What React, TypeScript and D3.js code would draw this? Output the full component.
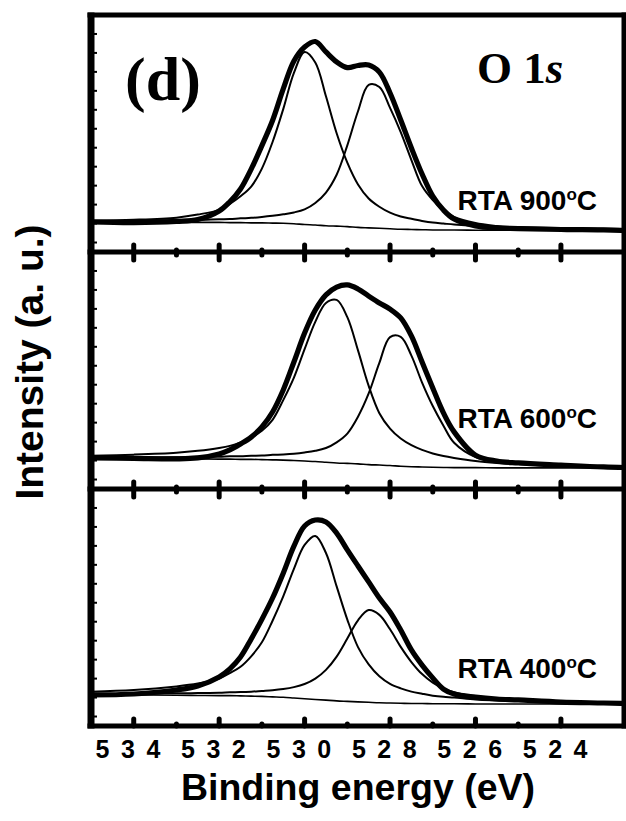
import React from 'react'
import * as d3 from 'd3'

// binding energy grid (eV) the spectra were read at
const energy = [535, 534, 533, 532.5, 532, 531.75, 531.5, 531.25, 531, 530.75, 530.5, 530.25, 530, 529.75, 529.5, 529.25, 529, 528.75, 528.5, 528.25, 528, 527.75, 527.5, 527.25, 527, 526.75, 526.5, 526, 525.5, 525, 524, 523, 522]

// RTA 900 oC
const measured900 = [12.7, 12.4, 12.9, 13.7, 17.3, 21.2, 26.6, 35.0, 44.9, 55.5, 68.8, 80.6, 86.5, 88.8, 84.4, 80.2, 77.8, 78.7, 78.9, 75.9, 67.1, 55.7, 43.9, 32.9, 23.6, 17.7, 13.9, 11.0, 10.1, 9.9, 9.5, 9.3, 8.9]
const peakA900 = [13.2, 13.6, 14.5, 15.8, 17.8, 20.3, 23.5, 27.6, 35.2, 46.4, 60.3, 75.6, 84.4, 80.0, 65.7, 50.1, 37.7, 28.5, 22.6, 19.1, 16.6, 15.0, 14.0, 13.1, 12.4, 12.0, 11.6, 11.0, 10.6, 10.4, 10.0, 9.8, 9.6]
const peakB900 = [13.0, 13.2, 13.4, 13.5, 13.8, 13.9, 14.2, 14.4, 14.8, 15.3, 15.9, 16.7, 18.0, 20.7, 25.1, 32.6, 45.0, 59.4, 70.5, 69.6, 60.8, 50.6, 38.8, 27.8, 21.9, 17.7, 14.8, 12.2, 11.0, 10.3, 9.7, 9.5, 9.3]
const background900 = [12.6, 12.6, 12.5, 12.5, 12.5, 12.4, 12.4, 12.3, 12.3, 12.2, 12.1, 11.9, 11.6, 11.4, 11.1, 10.9, 10.7, 10.4, 10.2, 10.0, 9.8, 9.6, 9.5, 9.4, 9.3, 9.3, 9.3, 9.2, 9.2, 9.2, 9.2, 9.2, 9.2]

// RTA 600 oC
const measured600 = [13.1, 12.9, 12.7, 13.1, 14.8, 16.5, 19.0, 21.9, 26.2, 32.5, 41.8, 53.6, 65.8, 75.5, 81.9, 85.2, 86.1, 84.4, 81.4, 78.5, 75.9, 72.2, 64.6, 53.6, 42.6, 32.1, 24.1, 14.3, 11.8, 11.0, 10.1, 9.3, 8.9]
const peakA600 = [14.0, 14.5, 15.3, 16.1, 17.3, 18.2, 19.7, 21.8, 24.6, 29.2, 37.5, 47.0, 59.0, 70.5, 78.5, 79.8, 72.5, 58.5, 43.5, 32.0, 25.5, 21.3, 18.5, 16.5, 15.0, 13.9, 13.1, 11.8, 11.0, 10.5, 9.9, 9.5, 9.3]
const peakB600 = [13.2, 13.3, 13.4, 13.6, 13.6, 13.8, 13.8, 14.0, 14.1, 14.4, 14.6, 14.9, 15.4, 16.1, 17.3, 19.7, 23.4, 30.5, 40.3, 53.2, 64.1, 64.2, 56.3, 44.9, 35.0, 26.7, 19.5, 13.5, 11.5, 10.6, 9.8, 9.4, 9.2]
const background600 = [12.8, 12.8, 12.7, 12.7, 12.6, 12.6, 12.5, 12.5, 12.4, 12.3, 12.2, 12.0, 11.8, 11.6, 11.3, 11.0, 10.8, 10.6, 10.3, 10.1, 9.9, 9.6, 9.4, 9.3, 9.2, 9.1, 9.0, 9.0, 8.9, 8.9, 8.9, 8.9, 8.9]

// RTA 400 oC
const measured400 = [13.1, 13.5, 15.2, 16.9, 20.7, 24.1, 29.1, 36.7, 45.0, 54.0, 64.5, 75.9, 84.4, 86.9, 86.1, 81.4, 74.3, 67.5, 60.8, 54.0, 48.1, 40.5, 32.1, 25.7, 20.3, 15.6, 13.5, 12.2, 11.4, 11.0, 10.1, 9.7, 9.3]
const peakA400 = [14.5, 15.2, 16.7, 17.9, 20.0, 22.3, 25.0, 29.4, 35.3, 44.4, 54.7, 66.3, 76.4, 80.2, 73.0, 58.9, 44.9, 33.3, 26.0, 21.0, 17.8, 15.9, 14.5, 13.6, 12.8, 12.3, 12.0, 11.2, 10.8, 10.5, 10.1, 9.9, 9.8]
const peakB400 = [13.5, 13.6, 13.8, 13.9, 14.0, 14.2, 14.3, 14.5, 14.8, 15.1, 15.6, 16.4, 17.7, 20.0, 23.7, 29.3, 36.9, 44.6, 48.9, 46.9, 40.8, 33.4, 27.0, 21.9, 18.3, 15.9, 14.3, 12.4, 11.5, 10.9, 10.3, 10.0, 9.8]
const background400 = [13.1, 13.1, 13.0, 12.9, 12.8, 12.8, 12.7, 12.6, 12.5, 12.3, 12.1, 11.8, 11.5, 11.2, 10.9, 10.6, 10.4, 10.2, 10.0, 9.8, 9.7, 9.6, 9.5, 9.5, 9.4, 9.4, 9.4, 9.3, 9.3, 9.3, 9.3, 9.3, 9.3]

const temperatures = ['900', '600', '400']
const majorTicks = [534, 532, 530, 528, 526, 524]
const minorTicks = [533, 531, 529, 527, 525]

const W = 626
const H = 821
const left = 91
const right = 625
const top = 15
const panelH = 237
const sans = 'Liberation Sans, Arial, sans-serif'
const serif = 'Liberation Serif, Times New Roman, serif'

export default function App() {
  const x = d3.scaleLinear().domain([535, 522.5]).range([left, right])

  const panels = [
    { temp: temperatures[0], measured: measured900, peaks: [peakA900, peakB900], bg: background900, labelY: 210 },
    { temp: temperatures[1], measured: measured600, peaks: [peakA600, peakB600], bg: background600, labelY: 428 },
    { temp: temperatures[2], measured: measured400, peaks: [peakA400, peakB400], bg: background400, labelY: 678 },
  ]
  const bottom = top + panelH * 3

  return (
    <svg width={W} height={H} style={{ position: 'absolute', left: 0, top: 0, background: '#fff' }}>
      <defs>
        <clipPath id="plotArea">
          <rect x={left} y={top} width={right - left} height={panelH * 3} />
        </clipPath>
      </defs>

      {panels.map((p, i) => {
        const y0 = top + panelH * i
        const y = d3.scaleLinear().domain([0, 100]).range([y0 + panelH, y0])
        const line = d3
          .line<number>()
          .x((_, k) => x(energy[k]))
          .y((v) => y(v))
          .curve(d3.curveCatmullRom.alpha(0.5))
        return (
          <g key={p.temp}>
            <g clipPath="url(#plotArea)" fill="none" stroke="#000" strokeLinejoin="round">
              <path d={line(p.bg) || ''} strokeWidth={1.6} />
              {p.peaks.map((pk, j) => (
                <path key={j} d={line(pk) || ''} strokeWidth={2} />
              ))}
              <path d={line(p.measured) || ''} strokeWidth={5.2} />
            </g>
            {/* small y ticks */}
            {d3.range(4, 100, 8).map((v) => (
              <line key={v} x1={left + 3} x2={left + 6} y1={y(v)} y2={y(v)} stroke="#000" strokeWidth={2} />
            ))}
            {/* x ticks, inward at the bottom of every panel and the top of the lower two */}
            {majorTicks.map((t) => (
              <g key={t} stroke="#000" strokeWidth={5} strokeLinecap="round">
                <line x1={x(t)} x2={x(t)} y1={y0 + panelH} y2={y0 + panelH - 7} />
                {i > 0 && <line x1={x(t)} x2={x(t)} y1={y0} y2={y0 + 8} />}
              </g>
            ))}
            {minorTicks.map((t) => (
              <g key={t} stroke="#000" strokeWidth={5} strokeLinecap="round">
                <line x1={x(t)} x2={x(t)} y1={y0 + panelH} y2={y0 + panelH - 2} />
                {i > 0 && <line x1={x(t)} x2={x(t)} y1={y0} y2={y0 + 3} />}
              </g>
            ))}
            <text x={597} y={p.labelY} textAnchor="end" fontFamily={sans} fontWeight="bold" fontSize={28}>
              {`RTA ${p.temp}`}
              <tspan fontSize={17} dy={-10}>o</tspan>
              <tspan dy={10}>C</tspan>
            </text>
          </g>
        )
      })}

      {/* frame and panel dividers */}
      <g stroke="#000" fill="none">
        <line x1={left} x2={left} y1={top - 2.5} y2={bottom + 2.5} strokeWidth={7} />
        <line x1={right - 1} x2={right - 1} y1={top - 2.5} y2={bottom + 2.5} strokeWidth={5} />
        {[0, 1, 2, 3].map((k) => (
          <line key={k} x1={left - 3.5} x2={W} y1={top + panelH * k} y2={top + panelH * k} strokeWidth={5} />
        ))}
      </g>

      {majorTicks.map((t) => (
        <text
          key={t}
          x={x(t)}
          y={758}
          textAnchor="middle"
          fontFamily={sans}
          fontWeight="bold"
          fontSize={25}
          letterSpacing={11.5}
        >
          {t}
        </text>
      ))}

      <text x={(left + right) / 2} y={800} textAnchor="middle" fontFamily={sans} fontWeight="bold" fontSize={37.5}>
        Binding energy (eV)
      </text>
      <text
        transform="translate(43, 362) rotate(-90)"
        textAnchor="middle"
        fontFamily={sans}
        fontWeight="bold"
        fontSize={39}
      >
        Intensity (a. u.)
      </text>

      <text x={125} y={100} fontFamily={serif} fontWeight="bold" fontSize={62}>
        (d)
      </text>
      <text x={477} y={83} fontFamily={serif} fontWeight="bold" fontSize={45}>
        O 1<tspan fontStyle="italic">s</tspan>
      </text>
    </svg>
  )
}
